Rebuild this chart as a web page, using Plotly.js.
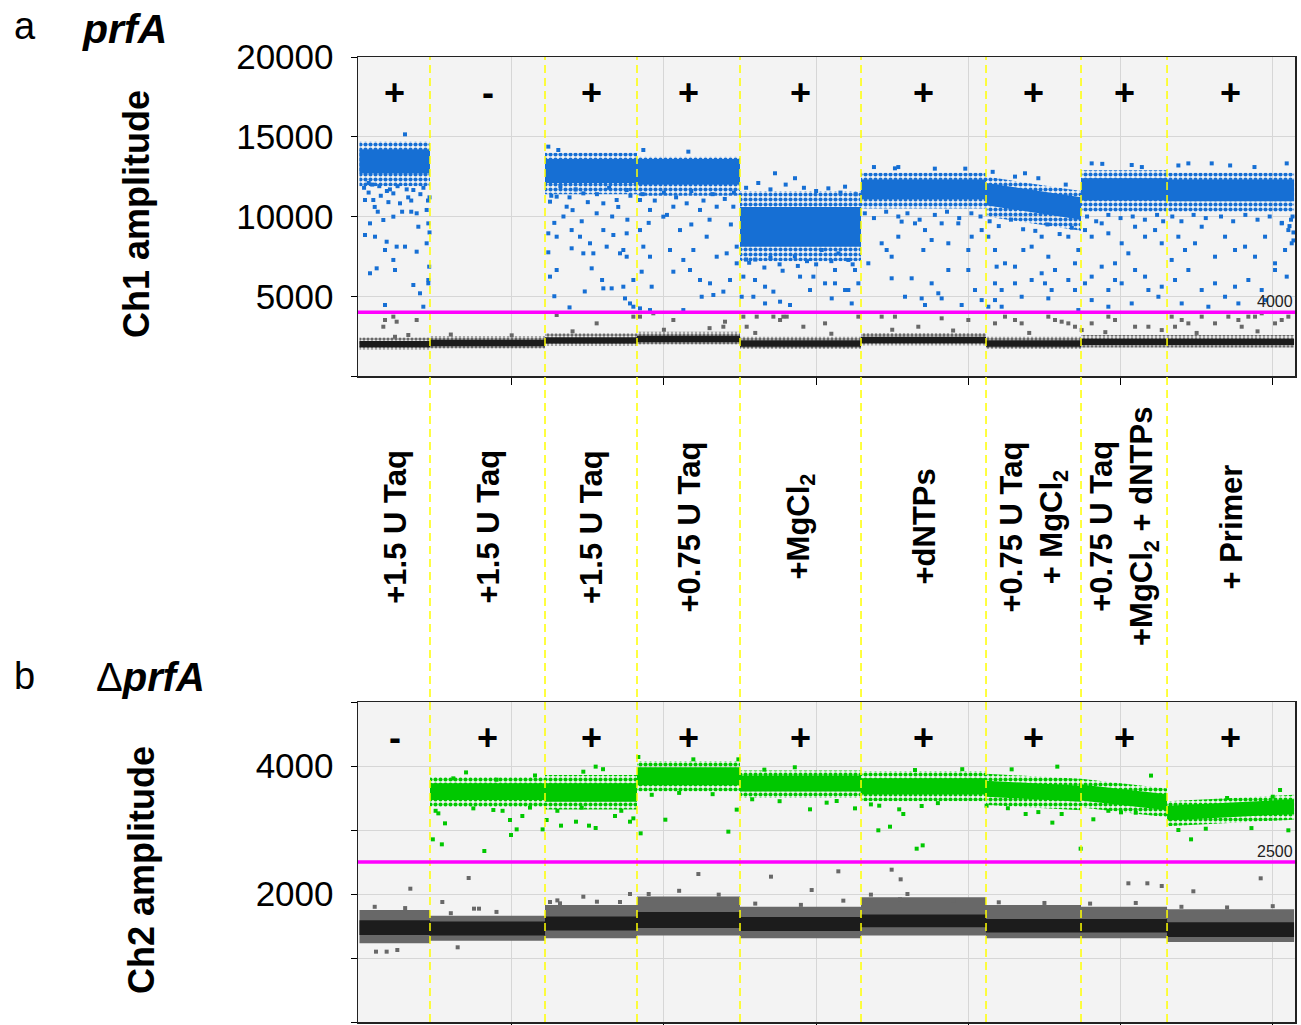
<!DOCTYPE html>
<html><head><meta charset="utf-8">
<script src="https://cdn.plot.ly/plotly-3.0.1.min.js"></script>
<style>html,body{margin:0;padding:0;background:#fff}</style>
</head><body><div id="chart" style="width:1301px;height:1025px"></div>
<script>
// ---------- DATA ----------
// well boundaries in event number
const separators = [2316, 6094, 9116, 12500, 16475, 20581, 23702, 26528];
const lastEvent = 30700;
const wellLabels = ["+1.5 U Taq", "+1.5 U Taq", "+1.5 U Taq", "+0.75 U Taq", "+MgCl<sub>2</sub>",
  "+dNTPs", "+0.75 U Taq<br>+ MgCl<sub>2</sub>", "+0.75 U Taq<br>+MgCl<sub>2</sub> + dNTPs", "+ Primer"];
const signsA = ["+", "-", "+", "+", "+", "+", "+", "+", "+"];
const signsB = ["-", "+", "+", "+", "+", "+", "+", "+", "+"];
const thresholdA = 4000;
const thresholdB = 2500;
const eventTicks = [5000, 10000, 15000, 20000, 25000, 30000];
const ch1TickLabels = [5000, 10000, 15000, 20000];
const ch1MinorTicks = [0];
const ch2TickLabels = [2000, 4000];
const ch2MinorTicks = [0, 1000, 3000, 5000];

// Panel a (Ch1) dense positive cluster per well (left end), tilt = change to right end
const ch1PosCoreLo   = [12700, null, 12100, 12000, 8100, 11100, 10700, 11000, 10950];
const ch1PosCoreHi   = [14200, null, 13600, 13600, 10600, 12300, 12100, 12400, 12300];
const ch1PosFringeLo = [11900, null, 11400, 11300, 7200, 10500, 10000, 10300, 10300];
const ch1PosFringeHi = [14700, null, 14000, 13750, 11600, 12750, 12500, 12900, 12750];
const ch1PosTilt     = [0, null, 0, 0, 0, 0, -900, 0, 0];
// Panel a negative cluster
const ch1NegCoreLo   = [1800, 1870, 2030, 2120, 1840, 2060, 1840, 1930, 1930];
const ch1NegCoreHi   = [2200, 2270, 2430, 2520, 2240, 2460, 2240, 2330, 2330];
const ch1NegFringeLo = [1650, 1720, 1880, 1970, 1690, 1910, 1690, 1780, 1780];
const ch1NegFringeHi = [2420, 2500, 2680, 2780, 2460, 2700, 2460, 2570, 2570];

// Panel a scattered droplets (rain): event, amplitude
const ch1PosRainX = [1495,181,454,1112,1330,1769,345,783,1112,1878,2206,181,509,892,1221,1495,1933,2261,838,1112,345,564,1166,1878,2206,1769,2261,2290,1987,838,2097,2261,300,700,1000,1600,2000,2250,500,1400,
 150,420,650,900,1250,1550,1700,2100,2300,600,1700,2300,300,950,
 6203,6531,6258,6477,6805,7353,7791,8010,8448,8777,6203,6477,6969,7243,7572,8010,8339,8667,8777,6203,6969,7353,7682,8120,8558,8777,6477,6258,7627,7969,8284,8010,8667,8996,8722,8886,8996,6900,7400,6400,
 6300,6600,6900,7100,7500,7800,8200,8500,8900,6700,7300,8300,8800,6400,7000,
 9324,10803,9214,9543,9981,10310,10748,11186,11734,12281,9214,9324,9543,10200,10529,10638,10967,11405,11734,12062,12391,9269,9598,10310,10857,11186,11515,11953,12172,12391,11241,11624,9214,9543,10638,
 9300,9700,10000,10400,10900,11300,11600,12000,12300,9500,10100,10900,11500,12200,
 13650,14307,12610,12993,13322,13596,12938,13322,13815,14143,14472,14910,14800,12555,15402,15950,15183,15731,16059,16278,15621,15293,15621,15950,16059,15512,16169,16388,13000,13800,14300,14700,
 12700,13100,13500,14000,14600,15000,15800,16300,12800,13300,13900,14400,15000,15500,16200,12700,13500,
 16715,17153,17317,17481,17700,17809,18248,18576,18522,18795,19124,19343,19671,20000,20110,20438,17481,18138,18795,19014,19343,20000,20219,20438,17919,18467,18576,19124,19781,17590,17700,
 16600,16900,17300,17700,18000,18400,18900,19300,19700,20100,20400,16900,18900,19900,
 20657,20876,20930,21204,21533,21807,22080,22409,22628,22847,23285,23504,23614,20876,21095,21533,22080,22409,22518,22737,23285,23504,20876,21752,22628,23614,20657,21095,21861,21533,
 20700,21000,21400,21800,22200,22600,23000,23400,20800,22300,23200,
 23833,24052,24381,24600,24819,25038,25257,25477,25805,26134,26353,23833,24052,24381,24600,24819,25038,25477,25805,25915,26353,24052,24600,25367,26244,24052,25367,
 23900,24200,24600,25000,25400,25800,26200,26400,24400,25700,
 26680,26899,27118,27447,27666,28104,28433,28761,29090,29418,29747,30075,30404,30513,30623,30294,26790,27228,27666,28104,28433,28761,29199,29637,30075,30459,27009,27885,28871,29747,27228,27995,30459,30600,30650,30550,
 26700,27000,27400,27800,28300,28700,29100,29500,29900,30300,30680,30680,26900,28600,29400];
const ch1PosRainY = [15150,11035,11035,11450,10825,11660,9570,9780,9990,10200,10410,8840,8735,8420,8110,8110,9360,9570,7900,7275,6440,6750,6645,7795,8320,5705,6020,6855,5185,4450,4345,5810,11500,11300,11700,11200,11400,11000,10600,10300,
 11800,12000,11900,11600,11900,11700,11000,11800,11200,10300,10300,9000,12100,10900,
 14380,14170,10930,11245,10615,11450,10200,10825,11035,11660,8945,8735,9150,8735,8320,9150,8840,7900,8945,7755,8005,7690,7690,8110,7690,7480,6645,6230,6750,6020,5495,5495,5600,6020,4865,4550,4345,4300,5300,5000,
 11300,11900,11200,11700,10900,11400,11800,10600,11300,10000,9700,10000,9800,9600,10400,
 14170,14065,11035,10410,9990,10615,10825,10410,10615,10615,9150,8110,7480,7900,9150,7275,7900,8735,7480,7690,8110,6540,5600,6540,6645,6020,5810,5290,6020,7065,4970,5080,4240,4135,4135,
 11400,11000,11500,11200,11600,11000,11400,11100,11500,9600,10100,9500,9800,9500,
 12710,12400,6230,6020,5600,5290,4970,4550,4660,4450,6230,6230,5390,4970,11765,11870,7900,7690,7275,6645,6645,5810,5810,5390,5390,4865,4550,5810,7300,7000,7500,7200,
 11800,12100,11700,12000,11800,11600,11500,11400,7100,6800,6600,6900,7000,7200,7000,7300,7400,
 7065,8320,7900,7480,8735,9680,9570,9150,7900,8525,9570,8320,9570,7900,8735,9150,6125,6125,5810,5185,6645,6645,5390,4760,4970,4865,4450,4865,4450,13020,13100,
 10200,9900,10300,10000,10200,9800,10100,10300,9900,10200,10000,13100,13000,13000,
 8735,7900,6855,7065,6855,7900,8110,8735,7480,6645,8735,7065,7900,5810,5390,5810,6020,6440,5810,5390,6020,5390,4760,4970,4865,4135,4345,4345,12710,12500,
 9700,9400,9800,9200,9100,9500,8900,9300,12800,12400,12000,
 9150,8735,9570,8945,7065,8320,7690,9360,8735,9150,8320,5810,6230,6855,5390,6020,5810,6645,6230,5390,5600,4760,4345,4550,4970,13330,13230,
 10000,9700,10100,9900,10000,9800,10100,9700,13300,13100,
 7275,8735,7900,8320,9360,7480,8735,7900,8110,7480,8735,7065,7900,9150,8320,9570,6020,6645,5390,5810,4970,5600,6020,5390,6645,6230,4550,4345,4550,4760,13330,13330,13330,9800,10000,9400,
 10000,9700,10100,9900,10000,9700,10100,9800,10000,9600,9000,8500,13200,13200,13100];
const ch1NegRainX = [783,838,1112,1221,1878,1604,1166,6477,7791,8996,9214,9652,10310,11953,12007,13048,13596,13815,13924,14034,14581,12610,12719,15293,16388,17153,17590,18357,19124,20000,20876,21204,21533,21752,22628,22847,23066,23285,23504,23723,24052,24600,24819,25477,25915,26353,26680,26790,27009,27228,27666,28104,28542,28871,28980,29199,29418,29637,30075,30294,30513,
 3000,5000,7000,10000,11500,13000,15500,17500,19500,22000,24500,27500,29500];
const ch1NegRainY = [3090,3510,3720,3405,3510,2570,2460,3825,3300,3720,3720,3930,3510,3090,3405,3720,3720,3510,3720,3720,3090,3720,3090,3300,3720,3720,3720,3090,3615,3510,3300,3720,3510,3300,3720,3510,3405,3300,3090,2880,3300,3720,3510,3090,3090,2880,3720,3090,3510,3300,3720,3300,3720,3510,3090,3720,3720,3930,3300,3510,3720,
 2600,2550,2800,2900,3000,2700,2650,2900,2850,2700,2750,2700,2800];

// Panel b (Ch2) dense positive cluster per well
const ch2PosCoreLo   = [null, 3470, 3440, 3700, 3600, 3560, 3520, 3460, 3150];
const ch2PosCoreHi   = [null, 3730, 3730, 3980, 3850, 3810, 3770, 3710, 3380];
const ch2PosFringeLo = [null, 3360, 3320, 3600, 3500, 3450, 3390, 3350, 3060];
const ch2PosFringeHi = [null, 3830, 3860, 4080, 3930, 3920, 3880, 3800, 3450];
const ch2PosTilt     = [null, 0, 0, 0, 0, 0, -80, -150, 100];
// Panel b negative cluster
const ch2NegCoreLo   = [1360, 1350, 1430, 1470, 1420, 1480, 1400, 1400, 1330];
const ch2NegCoreHi   = [1590, 1570, 1650, 1720, 1640, 1680, 1610, 1610, 1560];
const ch2NegFringeLo = [1230, 1270, 1310, 1350, 1310, 1350, 1310, 1310, 1250];
const ch2NegFringeHi = [1750, 1660, 1830, 1960, 1800, 1950, 1830, 1800, 1760];

const ch2PosRainX = [2590,2809,2409,2705,4101,3083,3740,4397,4944,4977,5163,5349,5765,4500,6016,6148,6619,7112,7353,7539,7758,7758,8393,8886,8996,9160,9236,10047,10967,12117,12391,12446,13299,14800,15346,15675,16278,17044,17427,17073,17729,17864,18467,18303,18500,18248,21423,21883,22760,23066,22923,23689,24107,25016,27316,30513,30240,
 2500,3500,4700,5600,6500,7300,8000,8600,9600,10500,11600,12900,13800,14300,16800,19000,19800,20600,21300,22300,24600,25500,26000,26900,27800,28500,29300,30000];
const ch2PosRainY = [3260,3104,2854,2776,2672,3807,3338,3313,3156,2922,3010,3219,3852,3786,3010,3156,3068,3130,3911,3068,3031,3990,3219,3130,3182,4141,2948,3161,4104,2974,3318,4104,3943,3323,3427,3453,3338,2995,3052,3380,3323,3250,3375,2708,2760,3937,3948,3250,3115,3250,3990,2708,3167,3276,2854,2995,3625,
 3300,3900,3300,3350,3300,3350,3950,3300,3550,3580,3560,3480,3450,3980,3400,3420,3950,3380,3340,3280,3300,3270,3850,3000,3020,3500,3030,3520];
const ch2NegRainX = [1670,3586,2721,3762,3926,3225,542,892,1243,7353,8886,8558,11132,13517,14854,6258,6586,15730,17481,17777,15894,25258,25881,26353,27392,29604,17755,
 500,1500,3000,4500,6500,7800,9500,10500,11800,13000,14500,16800,18000,19500,21000,22500,24000,25500,27000,28500,30000];
const ch2NegRainY = [2083,2250,1875,1771,1771,1167,1099,1099,1125,1958,2000,1875,2312,2271,2062,1875,1854,2354,2380,2229,1896,2167,2167,2125,2042,2245,1917,
 1800,1780,1700,1720,1900,1880,2000,2050,1990,1850,1830,1990,2000,1900,1870,1860,1850,1860,1800,1790,1810];

// ---------- BUILD ----------
const W = 1301, H = 1025;
const wellStart = [0].concat(separators);
const wellEnd = separators.concat([lastEvent]);
const wellMid = wellStart.map((s, i) => (s + wellEnd[i]) / 2);

function polys(lo, hi, tilt) {
  const xs = [], ys = [];
  for (let i = 0; i < lo.length; i++) {
    if (lo[i] == null) continue;
    const t = tilt ? tilt[i] : 0;
    xs.push(wellStart[i], wellEnd[i], wellEnd[i], wellStart[i], wellStart[i], null);
    ys.push(lo[i], lo[i] + t, hi[i] + t, hi[i], lo[i], null);
  }
  return {x: xs, y: ys};
}
function band(lo, hi, tilt, color, ax, pattern) {
  const p = polys(lo, hi, tilt);
  const tr = {type: 'scatter', mode: 'lines', x: p.x, y: p.y, fill: 'toself',
    line: {width: 0, color: color}, fillcolor: color, hoverinfo: 'skip', showlegend: false,
    xaxis: ax[0], yaxis: ax[1]};
  if (pattern) {
    tr.fillcolor = 'rgba(0,0,0,0)';
    tr.fillpattern = {shape: '.', fgcolor: color, bgcolor: 'rgba(0,0,0,0)', size: pattern, solidity: 0.55};
  }
  return tr;
}
function rain(x, y, color, ax) {
  return {type: 'scatter', mode: 'markers', x: x, y: y, hoverinfo: 'skip', showlegend: false,
    marker: {symbol: 'square', size: 4, color: color, line: {width: 0}}, xaxis: ax[0], yaxis: ax[1]};
}
const BLUE = 'rgb(22,111,212)', GREEN = 'rgb(0,200,0)', DARK = '#1c1c1c', GRAY = '#686868';
const A = ['x', 'y'], B = ['x2', 'y2'];

const traces = [
  band(ch1NegFringeLo, ch1NegFringeHi, null, GRAY, A, 4),
  band(ch1NegCoreLo, ch1NegCoreHi, null, DARK, A, 0),
  rain(ch1NegRainX, ch1NegRainY, GRAY, A),
  band(ch1PosFringeLo, ch1PosFringeHi, ch1PosTilt, BLUE, A, 5),
  band(ch1PosCoreLo, ch1PosCoreHi, ch1PosTilt, BLUE, A, 0),
  rain(ch1PosRainX, ch1PosRainY, BLUE, A),
  band(ch2NegFringeLo, ch2NegFringeHi, null, GRAY, B, 0),
  band(ch2NegCoreLo, ch2NegCoreHi, null, DARK, B, 0),
  rain(ch2NegRainX, ch2NegRainY, GRAY, B),
  band(ch2PosFringeLo, ch2PosFringeHi, ch2PosTilt, GREEN, B, 5),
  band(ch2PosCoreLo, ch2PosCoreHi, ch2PosTilt, GREEN, B, 0),
  rain(ch2PosRainX, ch2PosRainY, GREEN, B)
];

const FONT = 'Arial, "Liberation Sans", sans-serif';
const xRange = [-49, 30731];
const xDomain = [358 / W, 1295 / W];
const GRID = '#d6d6d6';
function xAxis(anchor) {
  return {domain: xDomain, range: xRange, anchor: anchor, tickmode: 'array', tickvals: [], showticklabels: false,
    ticks: '', showgrid: false,
    minor: {tickmode: 'array', tickvals: eventTicks, ticks: 'outside', ticklen: 7, tickcolor: '#000',
      showgrid: true, gridcolor: GRID, gridwidth: 1},
    showline: true, linecolor: '#222', linewidth: 1.5, mirror: true, zeroline: false, fixedrange: true};
}
function yAxis(anchor, dom, range, vals, minorVals) {
  return {domain: dom, range: range, anchor: anchor, tickmode: 'array', tickvals: vals, ticktext: vals.map(String),
    ticks: 'outside', ticklen: 6, tickcolor: '#000', ticklabelstandoff: 10,
    minor: {tickmode: 'array', tickvals: minorVals, ticks: 'outside', ticklen: 6, tickcolor: '#000',
      showgrid: true, gridcolor: GRID, gridwidth: 1},
    tickfont: {family: FONT, size: 35, color: '#000'}, showgrid: true, gridcolor: GRID,
    showline: true, linecolor: '#222', linewidth: 1.5, mirror: true, zeroline: false, fixedrange: true};
}

const shapes = [];
separators.forEach(s => shapes.push({type: 'line', xref: 'x', yref: 'paper', x0: s, x1: s,
  y0: 1 - 1022 / H, y1: 1 - 57 / H, line: {color: '#ffff00', width: 1.5, dash: '8px,5px'}, layer: 'above'}));
shapes.push({type: 'line', xref: 'x domain', yref: 'y', x0: 0, x1: 1, y0: thresholdA, y1: thresholdA,
  line: {color: '#ff00ff', width: 3.5}, layer: 'above'});
shapes.push({type: 'line', xref: 'x2 domain', yref: 'y2', x0: 0, x1: 1, y0: thresholdB, y1: thresholdB,
  line: {color: '#ff00ff', width: 3.5}, layer: 'above'});

const ann = [];
function txt(o) { ann.push(Object.assign({showarrow: false, font: {family: FONT, color: '#000'}}, o)); }
signsA.forEach((s, i) => txt({text: '<b>' + s + '</b>', xref: 'x', yref: 'y', x: wellMid[i], y: 17800,
  xanchor: 'center', yanchor: 'middle', font: {family: FONT, size: 36, color: '#000'}}));
signsB.forEach((s, i) => txt({text: '<b>' + s + '</b>', xref: 'x2', yref: 'y2', x: wellMid[i], y: 4453,
  xanchor: 'center', yanchor: 'middle', font: {family: FONT, size: 36, color: '#000'}}));
wellLabels.forEach((s, i) => txt({text: '<b>' + s + '</b>', xref: 'x', yref: 'paper', x: wellMid[i], y: 1 - 527 / H,
  xanchor: 'center', yanchor: 'middle', textangle: -90, font: {family: FONT, size: 31, color: '#000'}}));
txt({text: String(thresholdA), xref: 'x domain', yref: 'y', x: 1, y: thresholdA, xanchor: 'right', yanchor: 'bottom',
  yshift: 0, font: {family: FONT, size: 16, color: '#222'}});
txt({text: String(thresholdB), xref: 'x2 domain', yref: 'y2', x: 1, y: thresholdB, xanchor: 'right', yanchor: 'bottom',
  yshift: 0, font: {family: FONT, size: 16, color: '#222'}});
txt({text: 'a', xref: 'paper', yref: 'paper', x: 12 / W, y: 1 - 26 / H, xanchor: 'left', yanchor: 'middle',
  font: {family: FONT, size: 38, color: '#000'}});
txt({text: '<b><i>prfA</i></b>', xref: 'paper', yref: 'paper', x: 80 / W, y: 1 - 29 / H, xanchor: 'left', yanchor: 'middle',
  font: {family: FONT, size: 41, color: '#000'}});
txt({text: 'b', xref: 'paper', yref: 'paper', x: 12 / W, y: 1 - 676 / H, xanchor: 'left', yanchor: 'middle',
  font: {family: FONT, size: 38, color: '#000'}});
txt({text: 'Δ<b><i>prfA</i></b>', xref: 'paper', yref: 'paper', x: 94 / W, y: 1 - 677 / H, xanchor: 'left', yanchor: 'middle',
  font: {family: FONT, size: 40, color: '#000'}});
txt({text: '<b>Ch1 amplitude</b>', xref: 'paper', yref: 'paper', x: 137 / W, y: 1 - 214 / H, textangle: -90,
  xanchor: 'center', yanchor: 'middle', font: {family: FONT, size: 36, color: '#000'}});
txt({text: '<b>Ch2 amplitude</b>', xref: 'paper', yref: 'paper', x: 141 / W, y: 1 - 870 / H, textangle: -90,
  xanchor: 'center', yanchor: 'middle', font: {family: FONT, size: 36, color: '#000'}});

const layout = {
  width: W, height: H, margin: {l: 0, r: 0, t: 0, b: 0}, paper_bgcolor: '#fff', plot_bgcolor: '#f3f3f3',
  showlegend: false, font: {family: FONT, color: '#000'},
  xaxis: xAxis('y'),
  yaxis: yAxis('x', [1 - 376 / H, 1 - 57 / H], [0, 20000], ch1TickLabels, ch1MinorTicks),
  xaxis2: xAxis('y2'),
  yaxis2: yAxis('x2', [1 - 1022 / H, 1 - 702 / H], [0, 5000], ch2TickLabels, ch2MinorTicks),
  shapes: shapes, annotations: ann
};
Plotly.newPlot('chart', traces, layout, {staticPlot: true, displayModeBar: false});
</script></body></html>
